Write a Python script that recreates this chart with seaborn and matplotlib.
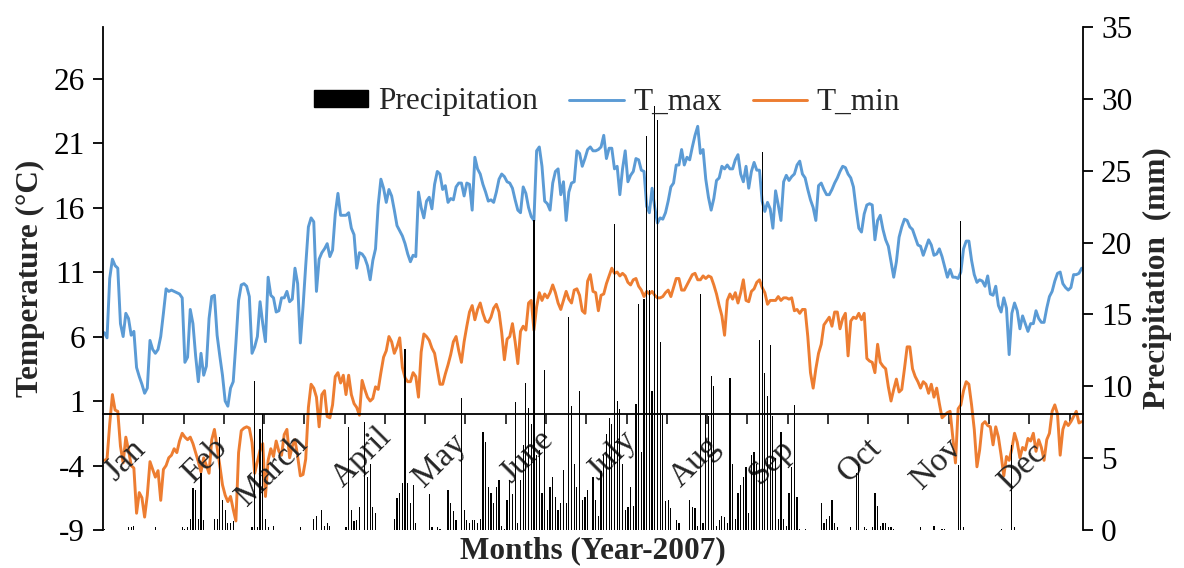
import numpy as np
import pandas as pd
import matplotlib
matplotlib.use("Agg")
import matplotlib.pyplot as plt
from matplotlib.lines import Line2D
from matplotlib.patches import Patch
import seaborn as sns

# ---------------- data (daily values, 2007) ----------------
month_names = ["Jan", "Feb", "March", "April", "May", "June",
               "July", "Aug", "Sep", "Oct", "Nov", "Dec"]
month_days = [31, 28, 31, 30, 31, 30, 31, 31, 30, 31, 30, 31]

tmax_jan = [6.3, 5.9, 10.5, 12.0, 11.5, 11.3, 7.0, 6.0, 7.8, 7.4, 6.1, 6.4, 3.6, 2.9, 2.3, 1.6,
            2.0, 5.7, 5.0, 4.7, 5.0, 6.0, 7.8, 9.7, 9.5, 9.6, 9.5, 9.4, 9.3, 9.0, 4.0]
tmax_feb = [4.4, 8.1, 7.0, 4.5, 2.5, 4.7, 3.0, 3.7, 7.4, 9.1, 9.2, 6.1, 4.5, 3.0, 1.0, 0.6,
            2.0, 2.5, 5.5, 8.8, 10.0, 10.1, 9.9, 9.1, 4.7, 5.2, 6.0, 8.7]
tmax_mar = [7.0, 5.6, 10.6, 9.2, 9.0, 7.9, 8.0, 9.0, 9.0, 9.5, 8.7, 8.9, 11.3, 10.1, 5.5, 8.3,
            11.5, 14.5, 15.2, 14.9, 9.5, 12.0, 12.5, 12.8, 13.2, 12.2, 12.7, 15.5, 17.1, 15.4, 15.4]
tmax_apr = [15.4, 15.6, 14.4, 13.9, 11.3, 12.5, 12.4, 12.1, 11.5, 10.4, 11.9, 12.8, 16.2, 18.2, 17.5,
            16.4, 17.4, 16.9, 15.8, 14.6, 14.2, 13.8, 13.2, 12.4, 11.8, 12.3, 12.2, 17.2, 16.0, 15.2]
tmax_may = [16.5, 16.8, 15.9, 17.8, 18.8, 18.6, 17.4, 17.7, 16.4, 16.7, 16.6, 17.6, 17.9, 17.9, 16.9,
            17.9, 17.8, 15.8, 19.9, 19.0, 18.6, 17.8, 17.2, 16.5, 16.6, 16.4, 17.2, 18.2, 18.6, 18.4, 18.0]
tmax_jun = [17.9, 17.5, 16.6, 15.8, 15.6, 17.6, 17.1, 16.0, 15.3, 15.0, 20.4, 20.7, 19.2, 16.5, 16.3,
            15.8, 17.9, 18.8, 19.0, 17.0, 18.0, 15.0, 17.2, 17.9, 18.0, 20.4, 20.2, 19.2, 19.8, 20.5]
tmax_jul = [20.7, 20.4, 20.4, 20.5, 20.7, 21.6, 19.8, 20.6, 20.6, 19.0, 19.2, 17.0, 19.0, 20.4, 18.0,
            18.5, 18.8, 19.8, 19.7, 18.9, 18.8, 16.1, 15.6, 17.5, 16.0, 14.8, 15.2, 15.1, 15.6, 16.5, 17.6]
tmax_aug = [17.9, 19.3, 19.3, 20.5, 19.3, 19.9, 19.7, 20.7, 21.6, 22.3, 20.2, 20.5, 18.2, 16.8, 15.8,
            16.7, 18.1, 18.3, 19.2, 19.0, 19.3, 19.0, 19.0, 19.7, 20.1, 18.6, 18.0, 19.2, 17.5, 18.8, 19.5]
tmax_sep = [18.9, 18.9, 16.5, 15.7, 16.4, 15.9, 14.4, 17.3, 16.2, 15.0, 18.0, 18.5, 18.1, 18.4, 18.6,
            19.3, 19.6, 18.6, 18.3, 17.4, 16.6, 16.0, 15.0, 17.7, 17.9, 17.4, 17.0, 17.0, 17.4, 17.9]
tmax_oct = [18.3, 18.8, 19.2, 19.1, 18.6, 18.3, 17.6, 15.9, 14.4, 14.1, 15.5, 16.2, 16.3, 16.2, 13.5,
            15.0, 15.4, 14.3, 13.5, 13.0, 11.8, 10.6, 11.8, 13.7, 14.5, 15.1, 15.0, 14.5, 14.3, 13.7, 13.1]
tmax_nov = [13.0, 12.3, 12.9, 13.5, 13.1, 12.3, 12.4, 12.8, 12.2, 11.4, 10.6, 11.2, 10.6, 10.6, 10.5,
            11.0, 12.8, 13.4, 13.4, 11.9, 10.8, 10.2, 10.4, 10.3, 9.9, 10.7, 9.3, 9.2, 9.9, 8.4]
tmax_dec = [7.9, 9.0, 8.2, 4.6, 7.8, 8.6, 8.0, 6.6, 7.6, 7.0, 6.4, 7.0, 7.0, 8.0, 7.4, 7.1, 7.1, 8.2,
            9.1, 9.5, 10.3, 10.9, 11.0, 10.1, 9.8, 9.6, 9.8, 10.8, 10.8, 10.9, 11.3]

tmin_jan = [-3.6, -3.5, -0.8, 1.5, 0.3, 0.2, -2.5, -3.8, -1.8, -2.8, -4.0, -4.2, -7.7, -6.1, -6.5, -8.0,
            -6.3, -3.7, -4.3, -4.9, -4.4, -6.7, -4.3, -4.0, -3.4, -3.2, -2.7, -3.0, -2.1, -1.5, -1.8]
tmin_feb = [-2.0, -1.8, -2.3, -3.0, -3.7, -4.5, -3.4, -4.0, -4.6, -2.0, -1.2, -2.6, -4.0, -5.5, -6.3,
            -6.8, -6.4, -7.4, -8.3, -3.0, -1.3, -1.1, -1.0, -1.1, -2.2, -4.6, -3.7, -2.8]
tmin_mar = [-2.3, -6.4, -3.6, -2.7, -3.3, -2.1, -2.9, -3.2, -1.6, -1.2, -3.4, -2.5, -2.0, -3.3, -4.8,
            -4.7, -3.5, 0.5, 2.3, 2.0, 1.3, -1.0, 1.5, 1.8, -0.2, -0.3, 0.7, 2.9, 3.2, 2.4, 3.0]
tmin_apr = [1.5, 3.0, 1.5, 0.8, 0.5, -0.1, 2.6, 1.9, 1.3, 1.0, 1.2, 2.1, 1.9, 3.2, 4.4, 4.9, 6.0, 5.6,
            4.7, 5.2, 5.9, 3.6, 2.8, 2.5, 2.5, 3.2, 2.9, 1.3, 4.8, 6.2]
tmin_may = [6.0, 5.7, 5.1, 4.7, 3.5, 2.3, 2.3, 3.1, 3.8, 4.6, 5.6, 6.0, 4.9, 4.0, 5.6, 6.8, 7.9, 8.4,
            7.3, 8.1, 8.6, 7.8, 7.2, 7.1, 7.5, 8.2, 8.5, 7.9, 6.3, 4.2, 5.8]
tmin_jun = [6.0, 7.0, 5.6, 3.9, 6.4, 6.8, 6.5, 8.6, 8.8, 6.5, 8.3, 9.4, 8.8, 9.3, 9.0, 9.4, 10.0, 9.4,
            8.6, 8.1, 8.8, 9.5, 8.9, 8.6, 9.6, 9.7, 9.2, 8.0, 7.8, 10.3]
tmin_jul = [10.8, 9.5, 9.4, 8.0, 9.2, 9.3, 10.1, 10.7, 11.3, 10.9, 11.0, 10.7, 10.9, 10.7, 10.2, 10.0,
            10.4, 10.5, 9.9, 9.6, 9.1, 9.5, 9.3, 9.5, 9.2, 9.0, 9.0, 9.1, 9.4, 9.6, 9.1]
tmin_aug = [9.8, 10.5, 10.5, 9.6, 9.6, 10.0, 10.4, 10.8, 10.9, 10.4, 10.4, 10.7, 10.5, 10.7, 10.6, 10.0,
            9.3, 8.4, 7.6, 6.1, 8.8, 9.3, 8.9, 9.4, 8.6, 9.4, 10.4, 8.8, 8.7, 9.5, 9.7]
tmin_sep = [10.2, 10.4, 9.8, 9.4, 8.5, 8.8, 8.8, 8.8, 9.1, 8.8, 9.0, 9.0, 8.9, 9.0, 8.0, 8.1, 7.8, 8.1,
            8.1, 6.0, 3.2, 2.0, 3.5, 4.7, 5.4, 6.9, 7.2, 7.5, 6.8, 7.9]
tmin_oct = [7.9, 6.6, 7.4, 7.8, 4.5, 7.2, 7.5, 7.4, 7.8, 7.3, 7.8, 4.3, 4.1, 4.0, 3.2, 5.4, 4.0, 3.7,
            3.5, 2.1, 1.0, 1.9, 2.7, 1.7, 1.9, 3.5, 5.2, 5.2, 3.5, 2.9, 2.5]
tmin_nov = [2.0, 2.5, 2.3, 1.6, 2.3, 1.3, 2.0, 0.8, -0.3, -0.1, 0.1, 0.2, -1.8, -3.8, 0.4, 0.7, 1.8,
            2.5, 2.3, 0.7, -1.2, -4.1, -2.8, -0.8, -0.6, -0.9, -1.0, -2.4, -1.0, -1.8]
tmin_dec = [-3.2, -4.8, -3.3, -3.6, -2.7, -1.5, -2.2, -3.4, -2.6, -2.8, -1.9, -2.1, -1.5, -2.9, -2.0,
            -2.6, -3.6, -2.0, -1.5, 0.2, 0.7, 0.0, -3.2, -1.2, -0.6, -0.9, -0.6, -0.2, 0.2, -0.7, -0.6]

prec_jan = [0.1, 0, 0, 0, 0, 0, 0, 0, 0, 0.2, 0.2, 0.3, 0, 0, 0, 0, 0, 0, 0, 0.2,
            0, 0, 0, 0, 0, 0, 0, 0, 0, 0.2, 0.1]
prec_feb = [0.2, 0.8, 2.9, 2.8, 0.8, 4.0, 0.7, 0, 0, 0, 0.8, 0.8, 6.5, 2.1, 1.4, 0.5, 0.5, 0.6, 0, 0,
            0, 0, 0, 0, 0.2, 10.4, 0.2, 7.0]
prec_mar = [8.1, 0.8, 0.2, 0, 0.3, 0, 0, 0, 0, 0, 0, 0, 0, 0, 0.2, 0, 0, 0, 0, 0.8,
            1.0, 0, 1.4, 0.3, 0.5, 0.3, 0, 0, 0, 0, 0]
prec_apr = [0.2, 7.2, 1.4, 0.6, 0.7, 1.6, 0, 7.5, 3.7, 4.6, 1.6, 1.2, 0, 0, 0, 0, 0, 0, 0.8, 2.2,
            2.6, 3.3, 12.6, 3.3, 1.9, 3.1, 0.5, 0, 0, 0]
prec_may = [0, 2.5, 0.2, 0, 0.2, 0.1, 0, 0, 2.8, 1.9, 1.3, 0.7, 0, 9.2, 1.4, 0.7, 0.5, 0.7, 0.7, 0.5,
            0.8, 6.8, 6.1, 3.0, 2.6, 1.9, 3.0, 3.5, 0.3, 0.1, 2.1]
prec_jun = [3.5, 2.5, 8.9, 0.5, 3.5, 5.9, 10.2, 8.5, 7.4, 21.6, 5.2, 5.6, 2.6, 11.1, 1.4, 3.0, 3.7, 2.3,
            1.4, 1.9, 4.2, 1.9, 14.8, 8.6, 4.6, 3.0, 9.7, 2.1, 2.3, 2.8]
prec_jul = [0, 3.7, 2.1, 1.0, 4.1, 5.2, 6.7, 7.8, 7.4, 21.3, 9.0, 8.4, 4.6, 1.4, 1.6, 3.0, 1.7, 8.8,
            15.7, 5.4, 16.1, 27.4, 16.7, 9.7, 29.5, 28.5, 13.1, 8.0, 2.0, 2.1, 1.5]
prec_aug = [0, 0.7, 0.5, 0, 0, 0, 2.1, 1.6, 1.5, 0.3, 16.4, 0.5, 8.0, 7.9, 10.7, 10.0, 0.3, 0.7, 1.0,
            0.9, 0.5, 10.6, 4.6, 0.8, 2.6, 3.1, 3.7, 4.4, 1.2, 5.2, 5.4]
prec_sep = [4.6, 13.2, 26.3, 10.9, 9.3, 12.9, 7.9, 5.0, 0.8, 6.8, 0.8, 0.3, 2.6, 4.4, 8.7, 2.3, 0.1, 0,
            0.1, 0, 0, 0, 0, 0, 1.9, 0.5, 0.8, 1.0, 2.1, 0.5]
prec_oct = [0.2, 0, 0, 0, 0, 0.2, 0, 4.0, 4.6, 0, 0.2, 0.1, 0, 0.2, 2.6, 1.7, 0.3, 0.5, 0.5, 0.2,
            0.2, 0.1, 0, 0, 0, 0, 0, 0, 0, 0, 0]
prec_nov = [0.2, 0, 0, 0, 0, 0.3, 0, 0, 0.1, 0.1, 0, 0, 0, 0, 4.5, 21.5, 0.2, 0, 0, 0,
            0, 0, 0, 0, 0, 0, 0, 0, 0, 0]
prec_dec = [0.1, 0, 0, 0, 5.9, 0.2, 0, 0, 0, 0, 0, 0, 0, 0, 0, 0, 0, 0, 0, 0,
            0, 0, 0, 0, 0, 0, 0, 0, 0, 0, 0]

# position (day of year) and height of the rotated month names
label_day = [7.7, 37.5, 62.5, 96.0, 125.0, 157.4, 189.0, 220.0, 248.7, 281.4, 310.0, 341.8]
label_y = [-3.6, -3.6, -4.4, -3.4, -3.6, -3.3, -3.2, -3.7, -3.7, -3.6, -3.9, -4.1]

tmax = np.concatenate([tmax_jan, tmax_feb, tmax_mar, tmax_apr, tmax_may, tmax_jun,
                       tmax_jul, tmax_aug, tmax_sep, tmax_oct, tmax_nov, tmax_dec])
tmin = np.concatenate([tmin_jan, tmin_feb, tmin_mar, tmin_apr, tmin_may, tmin_jun,
                       tmin_jul, tmin_aug, tmin_sep, tmin_oct, tmin_nov, tmin_dec])
prec = np.concatenate([prec_jan, prec_feb, prec_mar, prec_apr, prec_may, prec_jun,
                       prec_jul, prec_aug, prec_sep, prec_oct, prec_nov, prec_dec])
days = np.arange(len(tmax))
df = pd.DataFrame({"day": days, "T_max": tmax, "T_min": tmin, "Precipitation": prec})

# ---------------- styling ----------------
sns.set_theme(style="ticks")
plt.rcParams["font.family"] = ["Liberation Serif", "DejaVu Serif"]
plt.rcParams["axes.unicode_minus"] = False
FS = 22.5
FS_MONTH = 24
BLUE = "#5B9BD5"
ORANGE = "#ED7D31"

W, H = 1184, 568
fig = plt.figure(figsize=(W / 100, H / 100), dpi=100)
ax = fig.add_axes([103 / W, 38 / H, 980 / W, 503 / H])
ax2 = ax.twinx()

# temperature lines (left axis)
sns.lineplot(data=df, x="day", y="T_max", color=BLUE, lw=2.1, ax=ax, legend=False)
sns.lineplot(data=df, x="day", y="T_min", color=ORANGE, lw=2.1, ax=ax, legend=False)

# precipitation bars (right axis)
sns.barplot(data=df, x="day", y="Precipitation", native_scale=True, color="black",
            saturation=1, width=0.45, linewidth=0, errorbar=None, ax=ax2)

ax.set_xlim(-0.5, len(days) - 0.5)
ax.set_ylim(-9, 30)
ax2.set_ylim(0, 35)

ax.set_yticks(np.arange(-9, 27, 5))
ax2.set_yticks(np.arange(0, 36, 5))
ax.set_xticks(np.arange(14.5, len(days), 15))
ax.set_xticklabels([])

# spines: horizontal axis crosses at 0 degC
for s in ["top", "right"]:
    ax.spines[s].set_visible(False)
ax.spines["bottom"].set_position(("data", 0))
for s in ["top", "left", "bottom"]:
    ax2.spines[s].set_visible(False)
for sp in [ax.spines["left"], ax.spines["bottom"], ax2.spines["right"]]:
    sp.set_linewidth(1.3)
    sp.set_color("black")

ax.tick_params(axis="y", direction="out", length=7, width=1.3, labelsize=FS, colors="black", pad=6)
ax.tick_params(axis="x", direction="out", length=7, width=1.3, bottom=True)
ax2.tick_params(axis="y", direction="out", length=7, width=1.3, labelsize=FS, colors="black", pad=6)

ax.set_xlabel("")
ax.set_ylabel("Temperature (°C)", fontsize=FS, fontweight="bold", labelpad=6)
ax2.set_ylabel("Precipitation  (mm)", fontsize=FS, fontweight="bold", labelpad=8)
fig.text(593 / W, 1 - 551 / H, "Months (Year-2007)", fontsize=FS, fontweight="bold",
         ha="center", va="center")

# rotated month names inside the plot
for name, d, y in zip(month_names, label_day, label_y):
    ax.text(d, y, name, rotation=45, ha="center", va="center", fontsize=FS_MONTH, zorder=5)

handles = [Patch(facecolor="black", edgecolor="black", label="Precipitation"),
           Line2D([0], [0], color=BLUE, lw=2.1, label="T_max"),
           Line2D([0], [0], color=ORANGE, lw=2.1, label="T_min")]
leg = fig.legend(handles=handles, loc="center", bbox_to_anchor=(607 / W, 1 - 102 / H), ncol=3,
                 frameon=False, fontsize=FS, handlelength=1.75, handleheight=0.5,
                 handletextpad=0.3, columnspacing=1.0)

fig.savefig("out.png", dpi=100)
